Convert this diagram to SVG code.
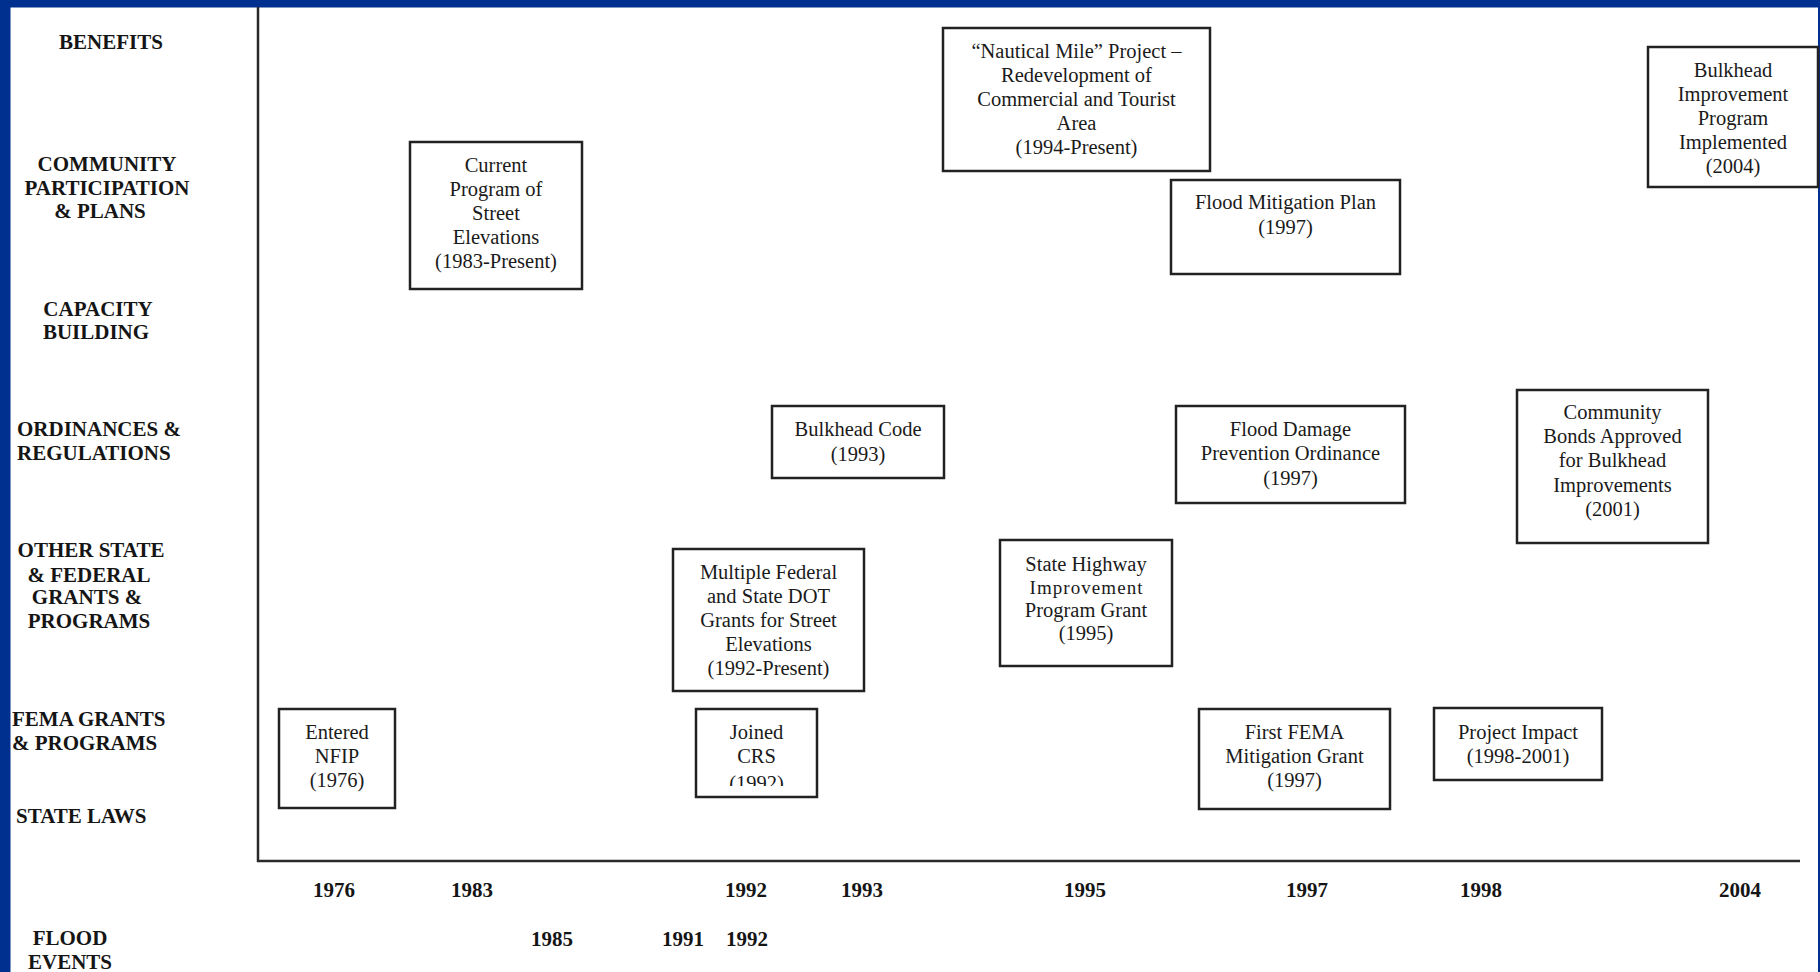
<svg xmlns="http://www.w3.org/2000/svg" width="1820" height="972" viewBox="0 0 1820 972">
<style>
.lbl{font-family:"Liberation Serif","Times New Roman",serif;font-weight:bold;font-size:21px;fill:#151515}
.yr{font-family:"Liberation Serif","Times New Roman",serif;font-weight:bold;font-size:21px;fill:#151515;text-anchor:middle}
.bx{fill:#ffffff;stroke:#222222;stroke-width:2.5}
.tx{font-family:"Liberation Serif","Times New Roman",serif;font-size:20.5px;fill:#1a1a1a;text-anchor:middle}
.ax{stroke:#2a2a2a;stroke-width:2.5;fill:none}
.m{text-anchor:middle}
</style>
<defs>
<clipPath id="crsclip"><rect x="690" y="700" width="130" height="86"/></clipPath>
</defs>
<rect x="0" y="0" width="1820" height="972" fill="#00308f"/>
<rect x="10.5" y="7.5" width="1807.5" height="964.5" fill="#ffffff"/>

<g id="axes">
<line class="ax" x1="258" y1="7" x2="258" y2="862"/>
<line class="ax" x1="257" y1="861" x2="1800" y2="861"/>
</g>

<g id="row-labels">
<text class="lbl m" x="111" y="49">BENEFITS</text>
<text class="lbl m" x="107" y="171">COMMUNITY</text>
<text class="lbl m" x="107" y="195">PARTICIPATION</text>
<text class="lbl m" x="100" y="218">&amp; PLANS</text>
<text class="lbl m" x="98" y="316">CAPACITY</text>
<text class="lbl m" x="96" y="339">BUILDING</text>
<text class="lbl" x="17" y="436">ORDINANCES &amp;</text>
<text class="lbl" x="17" y="460">REGULATIONS</text>
<text class="lbl m" x="91" y="557">OTHER STATE</text>
<text class="lbl m" x="89" y="582">&amp; FEDERAL</text>
<text class="lbl m" x="87" y="604">GRANTS &amp;</text>
<text class="lbl m" x="89" y="628">PROGRAMS</text>
<text class="lbl" x="12" y="726">FEMA GRANTS</text>
<text class="lbl" x="12" y="750">&amp; PROGRAMS</text>
<text class="lbl" x="16" y="823">STATE LAWS</text>
<text class="lbl m" x="70" y="945">FLOOD</text>
<text class="lbl m" x="70" y="969">EVENTS</text>
</g>

<g id="year-axis">
<text class="yr" x="334" y="897">1976</text>
<text class="yr" x="472" y="897">1983</text>
<text class="yr" x="746" y="897">1992</text>
<text class="yr" x="862" y="897">1993</text>
<text class="yr" x="1085" y="897">1995</text>
<text class="yr" x="1307" y="897">1997</text>
<text class="yr" x="1481" y="897">1998</text>
<text class="yr" x="1740" y="897">2004</text>
</g>

<g id="flood-events">
<text class="yr" x="552" y="946">1985</text>
<text class="yr" x="683" y="946">1991</text>
<text class="yr" x="747" y="946">1992</text>
</g>

<g id="street-elevations">
<rect class="bx" x="410" y="142" width="172" height="147"/>
<text class="tx" x="496" y="172">Current</text>
<text class="tx" x="496" y="196">Program of</text>
<text class="tx" x="496" y="220">Street</text>
<text class="tx" x="496" y="244">Elevations</text>
<text class="tx" x="496" y="268">(1983-Present)</text>
</g>

<g id="nautical-mile">
<rect class="bx" x="943" y="28" width="267" height="143"/>
<text class="tx" x="1076.5" y="58">“Nautical Mile” Project –</text>
<text class="tx" x="1076.5" y="82">Redevelopment of</text>
<text class="tx" x="1076.5" y="106">Commercial and Tourist</text>
<text class="tx" x="1076.5" y="130">Area</text>
<text class="tx" x="1076.5" y="154">(1994-Present)</text>
</g>

<g id="flood-mitigation-plan">
<rect class="bx" x="1171" y="180" width="229" height="94"/>
<text class="tx" x="1285.5" y="209">Flood Mitigation Plan</text>
<text class="tx" x="1285.5" y="234">(1997)</text>
</g>

<g id="bulkhead-improvement-program">
<rect class="bx" x="1648" y="47" width="170" height="140"/>
<text class="tx" x="1733" y="77">Bulkhead</text>
<text class="tx" x="1733" y="101">Improvement</text>
<text class="tx" x="1733" y="125">Program</text>
<text class="tx" x="1733" y="149">Implemented</text>
<text class="tx" x="1733" y="173">(2004)</text>
</g>

<g id="bulkhead-code">
<rect class="bx" x="772" y="406" width="172" height="72"/>
<text class="tx" x="858" y="436">Bulkhead Code</text>
<text class="tx" x="858" y="461">(1993)</text>
</g>

<g id="flood-damage-ordinance">
<rect class="bx" x="1176" y="406" width="229" height="97"/>
<text class="tx" x="1290.5" y="436">Flood Damage</text>
<text class="tx" x="1290.5" y="460">Prevention Ordinance</text>
<text class="tx" x="1290.5" y="485">(1997)</text>
</g>

<g id="community-bonds">
<rect class="bx" x="1517" y="390" width="191" height="153"/>
<text class="tx" x="1612.5" y="419">Community</text>
<text class="tx" x="1612.5" y="443">Bonds Approved</text>
<text class="tx" x="1612.5" y="467">for Bulkhead</text>
<text class="tx" x="1612.5" y="492">Improvements</text>
<text class="tx" x="1612.5" y="516">(2001)</text>
</g>

<g id="dot-grants">
<rect class="bx" x="673" y="549" width="191" height="142"/>
<text class="tx" x="768.5" y="579">Multiple Federal</text>
<text class="tx" x="768.5" y="603">and State DOT</text>
<text class="tx" x="768.5" y="627">Grants for Street</text>
<text class="tx" x="768.5" y="651">Elevations</text>
<text class="tx" x="768.5" y="675">(1992-Present)</text>
</g>

<g id="state-highway-grant">
<rect class="bx" x="1000" y="540" width="172" height="126"/>
<text class="tx" x="1086" y="571">State Highway</text>
<text class="tx" x="1086" y="594" style="font-size:19px" textLength="113" lengthAdjust="spacing">Improvement</text>
<text class="tx" x="1086" y="617">Program Grant</text>
<text class="tx" x="1086" y="640">(1995)</text>
</g>

<g id="entered-nfip">
<rect class="bx" x="279" y="709" width="116" height="99"/>
<text class="tx" x="337" y="739">Entered</text>
<text class="tx" x="337" y="763">NFIP</text>
<text class="tx" x="337" y="787">(1976)</text>
</g>

<g id="joined-crs">
<rect class="bx" x="696" y="709" width="121" height="88"/>
<text class="tx" x="756.5" y="739">Joined</text>
<text class="tx" x="756.5" y="763">CRS</text>
<text class="tx" x="756.5" y="790" clip-path="url(#crsclip)">(1992)</text>
</g>

<g id="first-fema-grant">
<rect class="bx" x="1199" y="709" width="191" height="100"/>
<text class="tx" x="1294.5" y="739">First FEMA</text>
<text class="tx" x="1294.5" y="763">Mitigation Grant</text>
<text class="tx" x="1294.5" y="787">(1997)</text>
</g>

<g id="project-impact">
<rect class="bx" x="1434" y="708" width="168" height="72"/>
<text class="tx" x="1518" y="739">Project Impact</text>
<text class="tx" x="1518" y="763">(1998-2001)</text>
</g>
</svg>
